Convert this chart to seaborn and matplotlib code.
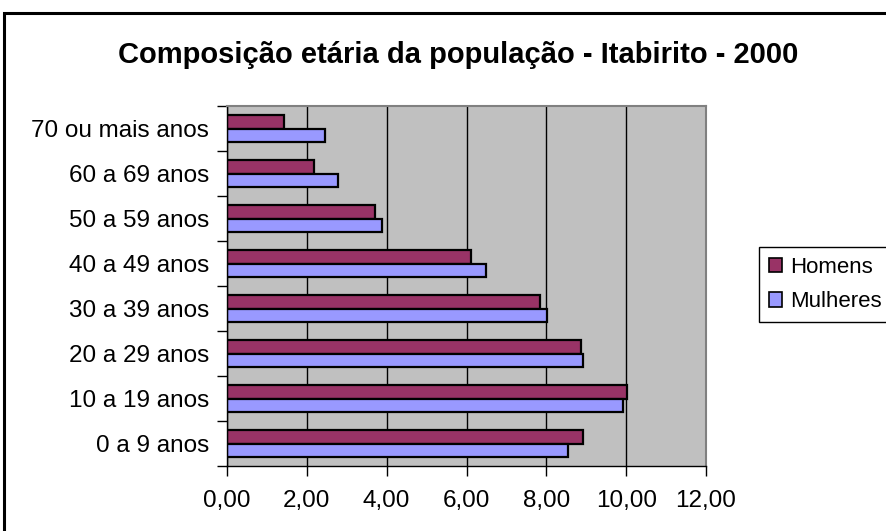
import pandas as pd
import seaborn as sns
import matplotlib.pyplot as plt
from matplotlib.patches import Rectangle, Patch
from matplotlib.ticker import FixedLocator, FuncFormatter

# data (% of population)
faixas = ["70 ou mais anos", "60 a 69 anos", "50 a 59 anos", "40 a 49 anos",
          "30 a 39 anos", "20 a 29 anos", "10 a 19 anos", "0 a 9 anos"]
homens = [1.43, 2.18, 3.71, 6.11, 7.83, 8.86, 10.02, 8.91]
mulheres = [2.45, 2.77, 3.89, 6.48, 8.02, 8.91, 9.92, 8.54]
sexos = ["Homens", "Mulheres"]
cores = ["#993366", "#9999FF"]

df = pd.DataFrame({"Faixa": faixas, "Homens": homens, "Mulheres": mulheres})
df = pd.melt(df, id_vars=["Faixa"], var_name="Sexo", value_name="Valor")

sns.set_style("white")
plt.rcParams["font.family"] = ["Liberation Sans", "DejaVu Sans"]
plt.rcParams["text.color"] = "black"
plt.rcParams["xtick.color"] = "black"
plt.rcParams["ytick.color"] = "black"

fig = plt.figure(figsize=(8.86, 5.31), dpi=100)
ax = fig.add_axes([227 / 886, 1 - 466 / 531, 479 / 886, 360 / 531])

sns.barplot(data=df, y="Faixa", x="Valor", hue="Sexo", order=faixas, hue_order=sexos,
            palette=cores, orient="h", width=0.58, edgecolor="black", linewidth=1.6,
            saturation=1, ax=ax, legend=False, errorbar=None)

ax.set_facecolor("#C0C0C0")
ax.set_xlim(0, 12)
ax.set_ylim(len(faixas) - 0.5, -0.5)
ax.set_xticks([0, 2, 4, 6, 8, 10, 12])
ax.xaxis.set_major_formatter(FuncFormatter(lambda v, p: f"{v:.2f}".replace(".", ",")))
ax.grid(axis="x", color="black", linewidth=1)
ax.set_axisbelow(True)
ax.set_xlabel("")
ax.set_ylabel("")

# labels at category centres, tick marks at category boundaries (Excel style)
ax.set_yticks(range(len(faixas)))
ax.set_yticklabels(faixas)
ax.yaxis.set_minor_locator(FixedLocator([i - 0.5 for i in range(len(faixas) + 1)]))
ax.tick_params(axis="y", which="major", length=0, pad=13, labelsize=17.5)
ax.tick_params(axis="y", which="minor", length=7, width=1, color="black", left=True)
ax.tick_params(axis="x", which="major", length=7, width=1, color="black", bottom=True,
               pad=10, labelsize=17.5)

for side in ["top", "right"]:
    ax.spines[side].set_color("#808080")
    ax.spines[side].set_linewidth(1.5)
for side in ["left", "bottom"]:
    ax.spines[side].set_color("black")
    ax.spines[side].set_linewidth(1)

fig.text(458 / 886, 1 - 55 / 531, "Composição etária da população - Itabirito - 2000",
         ha="center", va="center", fontsize=21, fontweight="bold")

handles = [Patch(facecolor=c, edgecolor="black", linewidth=1.2, label=s)
           for c, s in zip(cores, sexos)]
leg = fig.legend(handles=handles, loc="upper left", bbox_to_anchor=(759 / 886, 1 - 247 / 531),
                 frameon=True, fancybox=False, edgecolor="black", framealpha=1,
                 fontsize=16, handlelength=0.6, handleheight=0.6, handletextpad=0.35,
                 labelspacing=0.6, borderpad=0.45, borderaxespad=0)
leg.get_frame().set_linewidth(1)

# outer chart frame (right and bottom edges fall outside the image)
fig.patches.append(Rectangle((4 / 886, -0.2), 1.2, 1 - 13 / 531 + 0.2, transform=fig.transFigure,
                             fill=False, edgecolor="black", linewidth=2.2, clip_on=False))

fig.savefig("out.png", dpi=100)
